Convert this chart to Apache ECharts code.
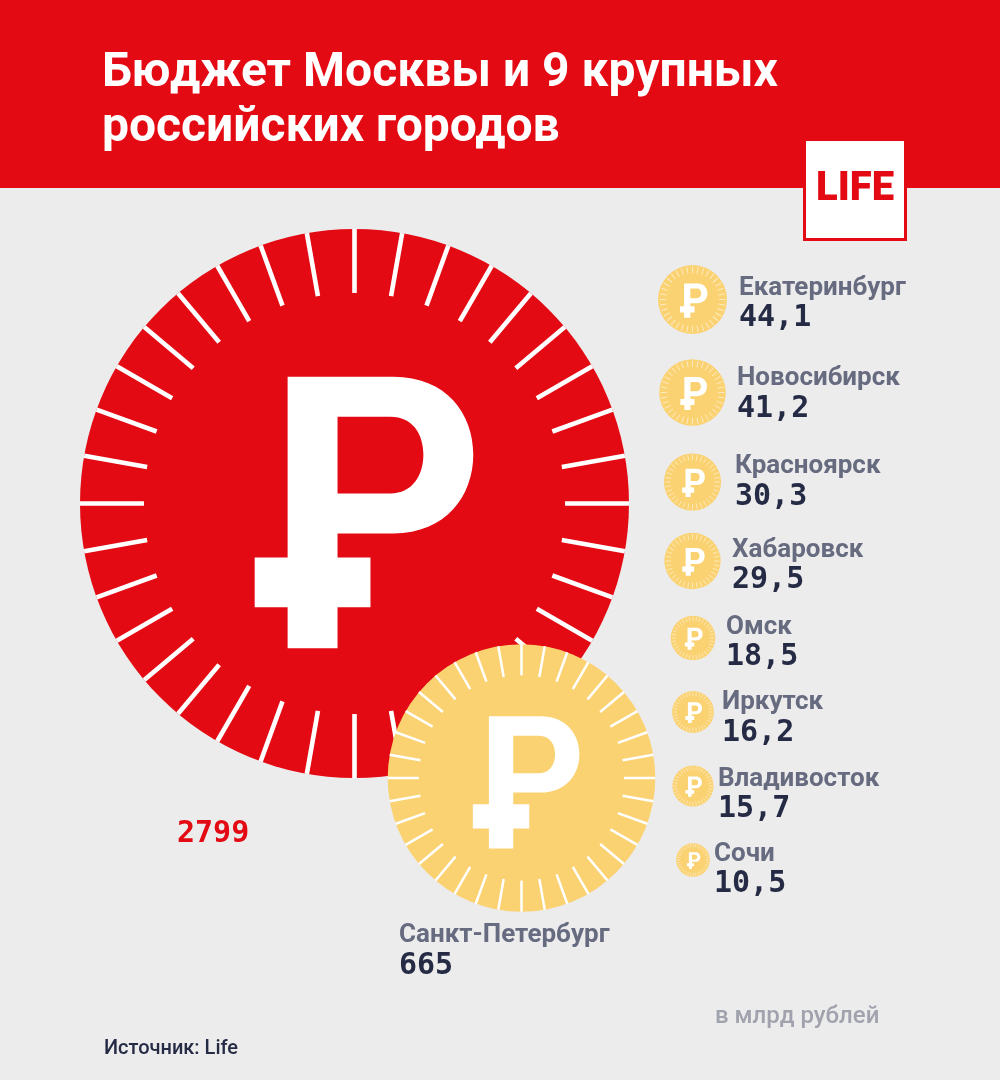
<!DOCTYPE html>
<html>
<head>
<meta charset="utf-8">
<title>Бюджет Москвы и 9 крупных российских городов</title>
<script src="https://cdn.jsdelivr.net/npm/echarts@6/dist/echarts.min.js"></script>
<style>
  html, body { margin: 0; padding: 0; background: #ececec; }
  #main { width: 1000px; height: 1080px; }
</style>
</head>
<body>
<div id="main"></div>
<script>
// data, млрд рублей
const cities = ['Москва', 'Санкт-Петербург', 'Екатеринбург', 'Новосибирск', 'Красноярск', 'Хабаровск', 'Омск', 'Иркутск', 'Владивосток', 'Сочи'];
const budgets = [2799, 665, 44.1, 41.2, 30.3, 29.5, 18.5, 16.2, 15.7, 10.5];

// layout only: where each coin and its caption sit on the sheet
const coinX = [354.5, 521.5, 692.5, 692.5, 692.5, 692.5, 693, 693, 693, 693];
const coinY = [503.5, 778, 299.5, 392.5, 482, 561, 638, 712, 786, 860];
const labelX = [177, 399, 739, 737, 735, 732, 726, 722, 718, 714];
const nameY = [0, 935, 288, 378, 466, 550, 627, 702, 779, 854];
const valueY = [834, 966, 318, 409, 497, 580, 657, 733, 809, 884];

const RED = '#e30a13';
const GOLD = '#fbd272';
const NAME_COLOR = '#676b80';
const VALUE_COLOR = '#262b45';
const MAX_RADIUS = 274.5;

// ruble sign, drawn in the pixels of the big coin, hole wound the other way
const rublePath = 'M-67,-127 L39,-127 C92,-127 119,-90 119,-49 C119,-8 92,30 39,30 L-17,30 L-17,54 L16,54 L16,104 L-17,104 L-17,145 L-67,145 L-67,104 L-100,104 L-100,54 L-67,54 Z ' +
  'M-17,-87 L-17,-10 L36,-10 C58,-10 69,-28 69,-49 C69,-70 58,-87 36,-87 Z';

function renderCoin(params, api) {
  const i = api.value(3);
  const c = api.coord([api.value(0), api.value(1)]);
  const r = MAX_RADIUS * Math.sqrt(api.value(2) / budgets[0]);
  const k = r / 275;
  const small = i > 1;
  const children = [{
    type: 'circle',
    shape: { cx: c[0], cy: c[1], r: r },
    style: { fill: i === 0 ? RED : GOLD }
  }];
  // on the small coins the ticks stay inside the rim and look softer
  const outer = small ? 0.96 : 1;
  for (let a = 0; a < 36; a++) {
    const ang = a * Math.PI / 18;
    children.push({
      type: 'line',
      shape: {
        x1: c[0] + Math.cos(ang) * r * outer,
        y1: c[1] + Math.sin(ang) * r * outer,
        x2: c[0] + Math.cos(ang) * r * 0.767,
        y2: c[1] + Math.sin(ang) * r * 0.767
      },
      style: { stroke: '#fff', lineWidth: 0.5 + r * 0.015, opacity: small ? 0.55 : 1 }
    });
  }
  children.push({
    type: 'path',
    shape: {
      pathData: rublePath,
      layout: 'cover',
      x: c[0] - 100 * k,
      y: c[1] - 127 * k,
      width: 219 * k,
      height: 272 * k
    },
    style: { fill: '#fff' }
  });
  return { type: 'group', children: children };
}

function renderCaption(params, api) {
  const i = api.value(0);
  const children = [{
    type: 'text',
    style: {
      x: labelX[i], y: valueY[i],
      text: String(budgets[i]).replace('.', ','),
      fill: i === 0 ? RED : VALUE_COLOR,
      font: 'bold 30px "DejaVu Sans Mono"',
      verticalAlign: 'middle'
    }
  }];
  // Москва has no name on the sheet, only the number
  if (i > 0) {
    children.push({
      type: 'text',
      style: {
        x: labelX[i], y: nameY[i],
        text: cities[i],
        fill: NAME_COLOR,
        font: 'bold 26px Roboto',
        verticalAlign: 'middle'
      }
    });
  }
  return { type: 'group', children: children };
}

const chart = echarts.init(document.getElementById('main'));

chart.setOption({
  animation: false,
  backgroundColor: '#ececec',
  title: {
    text: 'Бюджет Москвы и 9 крупных\nроссийских городов',
    left: 97,
    top: 41,
    textStyle: {
      color: '#fff',
      fontFamily: 'Roboto',
      fontWeight: 'bold',
      fontSize: 48,
      lineHeight: 55
    }
  },
  grid: { left: 0, right: 0, top: 0, bottom: 0 },
  xAxis: { type: 'value', min: 0, max: 1000, show: false },
  yAxis: { type: 'value', min: 0, max: 1080, inverse: true, show: false },
  graphic: [
    { type: 'rect', z: -1, shape: { x: 0, y: 0, width: 1000, height: 188 }, style: { fill: RED } },
    { type: 'rect', z: 0, shape: { x: 804.5, y: 139.5, width: 101, height: 100 }, style: { fill: '#fff', stroke: RED, lineWidth: 3 } },
    { type: 'text', z: 1, style: { x: 855, y: 190, text: 'LIFE', fill: RED, font: '900 40px Roboto', align: 'center', verticalAlign: 'middle' } },
    { type: 'text', z: 1, style: { x: 715, y: 1017, text: 'в млрд рублей', fill: '#a0a3ae', font: '500 24px Roboto', verticalAlign: 'middle' } },
    { type: 'text', z: 1, style: { x: 104, y: 1049, text: 'Источник: Life', fill: VALUE_COLOR, font: '500 20px Roboto', verticalAlign: 'middle' } }
  ],
  series: [
    {
      type: 'custom',
      coordinateSystem: 'cartesian2d',
      renderItem: renderCoin,
      silent: true,
      data: budgets.map((v, i) => [coinX[i], coinY[i], v, i])
    },
    {
      type: 'custom',
      coordinateSystem: 'none',
      renderItem: renderCaption,
      silent: true,
      data: budgets.map((v, i) => [i])
    }
  ]
});
</script>
</body>
</html>
